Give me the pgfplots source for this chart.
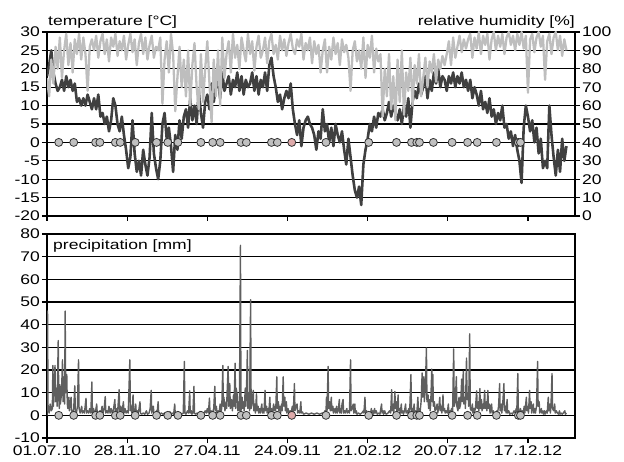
\documentclass[border=0pt]{standalone}
\usepackage{fontspec}
\setmainfont{Liberation Sans}[FakeStretch=1.25]
\newfontfamily\titlefont{Liberation Sans}[FakeStretch=1.3]
\usepackage{pgfplots}
\pgfplotsset{compat=1.18}
\usepackage{pgfplotstable}

\definecolor{tempc}{RGB}{64,64,64}
\definecolor{humc}{RGB}{190,190,190}
\definecolor{precc}{RGB}{95,95,95}
\definecolor{circc}{RGB}{192,192,192}
\definecolor{pinkc}{RGB}{222,170,170}

% temperature, one value every 4 days from 01.07.10
\pgfplotstableread[header=false,row sep=\\]{
18\\21\\25\\19\\16\\14\\15\\17\\14\\18\\15\\17\\14\\16\\11\\12\\10\\12\\10\\13\\11\\9\\12\\9\\13\\7\\8\\5\\7\\3\\6\\12\\10\\5\\3\\7\\2\\-2\\-7\\-4\\6\\
-3\\-8\\-5\\-9\\-2\\-6\\-9\\-4\\8\\-3\\-7\\-10\\-5\\5\\8\\1\\4\\-1\\-8\\2\\-2\\6\\1\\7\\9\\4\\12\\6\\10\\5\\14\\8\\4\\11\\
13\\9\\16\\11\\15\\17\\12\\19\\14\\16\\18\\13\\17\\15\\19\\14\\18\\13\\17\\15\\16\\19\\14\\18\\13\\17\\15\\19\\14\\21\\23\\18\\15\\
11\\13\\9\\12\\14\\12\\16\\9\\5\\2\\6\\-1\\4\\6\\7\\5\\4\\2\\-2\\3\\1\\9\\3\\5\\0\\4\\-1\\5\\2\\0\\3\\-2\\-6\\1\\-4\\-9\\
-13\\-15\\-12\\-17\\-6\\-2\\1\\5\\3\\7\\4\\8\\7\\9\\6\\8\\11\\7\\10\\8\\6\\9\\5\\10\\7\\12\\4\\11\\14\\12\\16\\13\\15\\
18\\12\\17\\14\\19\\16\\20\\15\\18\\17\\14\\18\\16\\19\\15\\18\\16\\19\\15\\17\\14\\17\\12\\15\\13\\10\\14\\9\\11\\8\\12\\7\\9\\
5\\8\\6\\10\\4\\5\\1\\3\\-1\\2\\-2\\-5\\-11\\4\\10\\7\\3\\6\\0\\4\\-3\\1\\-7\\-5\\-7\\10\\2\\-4\\-9\\-2\\-8\\1\\-5\\-1\\
}\temptab

% relative humidity, one value every 4 days from 01.07.10
\pgfplotstableread[header=false,row sep=\\]{
75\\65\\85\\72\\92\\80\\97\\75\\90\\99\\82\\94\\78\\96\\88\\99\\85\\97\\88\\68\\92\\96\\
90\\98\\86\\95\\99\\88\\96\\84\\97\\92\\99\\87\\95\\90\\98\\85\\93\\99\\89\\
96\\82\\94\\99\\88\\97\\85\\93\\98\\86\\92\\90\\97\\61\\85\\95\\78\\99\\88\\57\\75\\92\\70\\
85\\65\\90\\60\\82\\94\\70\\58\\88\\62\\80\\95\\72\\51\\85\\65\\90\\60\\97\\75\\88\\
95\\78\\99\\86\\93\\80\\97\\90\\84\\99\\88\\95\\79\\92\\98\\86\\90\\97\\83\\95\\99\\88\\93\\85\\98\\90\\96\\87\\94\\99\\91\\
88\\96\\92\\99\\85\\94\\90\\97\\83\\95\\88\\93\\78\\90\\96\\78\\92\\85\\97\\88\\94\\82\\96\\89\\93\\86\\68\\90\\95\\84\\
90\\80\\97\\75\\93\\86\\98\\78\\91\\84\\88\\54\\80\\65\\88\\58\\76\\52\\85\\62\\90\\55\\78\\68\\86\\60\\82\\72\\88\\65\\
75\\86\\70\\84\\78\\88\\73\\85\\80\\87\\82\\88\\95\\82\\97\\86\\92\\98\\89\\96\\91\\
96\\99\\86\\97\\91\\100\\88\\98\\93\\99\\85\\96\\100\\90\\98\\92\\99\\88\\97\\100\\93\\
98\\90\\99\\93\\100\\91\\98\\67\\96\\99\\89\\97\\100\\92\\98\\74\\95\\99\\88\\97\\100\\90\\98\\87\\96\\90\\
}\humtab

% precipitation: day  mm
\pgfplotstableread[row sep=\\]{
d p\\
0 0\\1 46\\2 3\\4 1\\6 5\\8 2\\10 3\\11 22\\12 4\\13 10\\15 22\\16 6\\18 12\\19 4\\21 33\\22 8\\23 3\\24 13.5\\25 5\\27 9\\29 24.5\\30 6\\32 17\\33 5\\34 46\\35 10\\37 18\\38 5\\39 3\\41 8\\42 2\\43 4\\45 8\\46 2\\48 1\\50 3\\52 13\\53 2\\55 1\\57 4\\59 24.5\\60 3\\62 1\\63 2\\65 4\\66 1\\68 2\\70 1\\73 7.5\\74 1\\76 2\\78 1\\80 3\\82 1\\84 14.7\\85 1\\87 3\\89 1\\91 2\\93 5\\94 1\\96 0.5\\99 2\\
101 1\\103 4\\105 1\\107 3\\109 8.3\\110 1\\112 2\\114 1\\116 4\\118 1\\120 3\\122 1\\124 2\\127 7\\128 1\\130 3\\132 1\\135 11.3\\136 2\\138 4\\140 1\\143 6\\144 1\\146 3\\148 1\\150 2\\152 1\\155 24.5\\156 2\\158 4\\159 1\\161 9\\162 2\\164 1\\166 5\\167 1\\169 2\\171 1\\174 6\\175 1\\177 0.5\\180 1\\183 0.5\\186 2\\188 0.5\\191 1\\193 3\\195 11\\196 1\\197 2\\199 4\\
200 1\\202 0.5\\205 2\\206 1\\208 6\\209 1\\211 0.5\\214 1\\217 0.5\\220 1\\223 0.5\\226 1\\228 0.5\\230 1.7\\231 0.5\\234 1\\237 0.5\\239 5\\240 0.5\\243 1\\246 0.5\\249 1\\252 0.5\\255 1\\257 23.8\\258 1\\260 0.5\\263 2\\265 1\\267 10.8\\268 1\\270 2\\271 0.5\\273 1\\275 12.8\\276 1\\278 0.5\\281 1\\283 0.5\\286 1.7\\287 0.5\\290 1\\293 0.5\\296 2\\298 1\\
300 3\\302 1\\304 7.6\\305 1\\307 2\\309 0.5\\312 3\\314 12.8\\315 2\\317 4\\318 1\\320 2\\322 1\\324 5\\325 1\\327 3\\329 22\\330 4\\331 8\\333 2\\335 6\\336 3\\337 10\\339 21.6\\340 4\\342 14\\343 3\\345 7\\347 2\\349 9\\350 4\\352 23\\353 3\\354 12\\356 9\\357 2\\359 6\\360 2\\362 75\\363 2\\365 8\\366 3\\368 6\\369 2\\371 12\\372 4\\373 9\\375 28.6\\376 3\\378 10\\379 2\\381 51\\382 3\\384 6\\386 11\\387 2\\389 5\\390 1\\392 9.5\\393 2\\395 4\\396 1\\398 3\\399 1\\
402 5\\403 1\\405 3\\406 1\\408 11\\409 2\\411 4\\412 1\\414 3\\415 1\\417 8\\418 1\\420 3\\422 1\\424 5\\425 2\\427 4\\428 2\\430 17\\431 3\\433 6\\434 2\\436 4\\437 1\\439 5\\440 2\\442 17\\443 4\\445 8\\446 2\\448 6\\449 1\\451 3\\453 1\\455 2\\457 1\\459 4\\460 1\\461 2\\463 14\\464 2\\466 4\\468 5\\469 1\\471 2\\473 1\\475 6\\476 1\\478 1.5\\480 0.5\\485 1\\490 0.5\\495 1\\
500 0.5\\505 1\\510 0.5\\515 1\\518 0.5\\520 2\\522 1\\523 8\\524 2\\526 21.6\\527 3\\529 6\\530 2\\532 8\\533 2\\535 4\\536 1\\539 3\\540 1\\542 4\\543 1\\545 2\\547 7\\548 1\\550 3\\551 1\\552 5\\554 7\\555 1\\557 2\\558 1\\561 3\\562 1\\564 2\\566 1\\568 24.5\\569 2\\571 3\\573 5\\574 1\\576 5\\577 1\\579 2\\580 0.5\\583 1\\586 0.5\\589 1\\592 2\\593 1\\595 8\\596 1\\598 2\\
600 0.5\\603 1\\605 0.5\\607 3\\608 1\\610 2\\611 0.5\\613 3\\614 1\\616 2\\618 0.5\\621 1\\623 0.5\\626 5\\627 1\\629 2\\630 0.5\\632 2\\633 1\\635 0.5\\638 1\\641 2\\643 1\\645 11.3\\646 2\\648 5\\649 1\\651 10.5\\652 3\\654 6\\655 1\\657 9\\658 2\\660 3\\661 1\\663 5\\664 1\\666 2\\667 0.5\\669 2\\671 5\\672 1\\674 2\\675 1\\677 3\\678 1\\679 4\\681 18\\682 2\\684 3\\685 1\\687 5\\688 1\\690 2\\692 1\\694 8\\695 2\\697 3\\698 1\\
700 6\\702 18.7\\703 8\\705 17\\706 6\\708 12\\710 29.7\\711 6\\713 9\\714 3\\716 7\\717 2\\718 5\\720 20.4\\721 6\\722 18\\723 4\\725 6\\726 2\\728 3\\730 5\\731 1\\733 3\\735 8\\736 2\\738 4\\739 1\\741 9\\742 2\\744 3\\745 1\\747 2\\749 1\\751 5\\752 1\\754 2\\755 1\\757 3\\759 2\\761 29.3\\762 4\\764 6\\766 17\\767 4\\769 2\\771 8\\772 3\\774 5\\776 16\\777 6\\779 19.5\\780 5\\782 8\\783 3\\785 25.3\\786 7\\788 10\\789 4\\791 36\\792 3\\794 2\\796 5\\797 1\\799 3\\
800 1\\802 4\\804 10.8\\805 3\\807 6\\808 2\\810 11.8\\811 3\\813 7\\814 2\\816 5\\817 3\\819 11\\820 3\\822 6\\823 2\\825 11\\826 3\\828 5\\829 1\\832 5\\833 1\\835 2\\837 0.5\\840 1\\842 2\\843 1\\845 4\\847 14\\848 2\\850 5\\851 1\\853 6\\855 14\\856 2\\858 4\\859 1\\861 7\\862 1\\864 2\\866 0.5\\869 1\\871 0.5\\874 2\\876 1\\878 3\\879 1\\881 18.4\\882 2\\884 1\\886 3\\887 1\\889 2\\891 1\\893 4\\894 1\\895 3\\897 8\\898 2\\
900 4\\901 1\\903 11\\904 3\\906 6\\907 1\\910 5\\911 1\\913 3\\914 1\\916 4\\918 23.8\\919 4\\921 6\\922 1\\925 3\\926 1\\928 2\\929 0.5\\931 2\\932 0.5\\935 2\\936 1\\938 8\\939 2\\941 5\\942 1\\943 4\\945 18.4\\946 3\\948 2\\950 5\\951 1\\953 2\\955 1\\957 0.5\\959 2\\960 0.5\\962 1\\964 0.5\\966 1\\969 2\\970 0.5\\972 1\\
}\prectab

\pgfplotsset{
  panel/.style={
    scale only axis, width=528pt,
    xmin=0, xmax=988,
    axis line style={black, line width=1.2pt},
    tick style={black, line width=1.2pt},
    tick align=outside, major tick length=5pt,
    tick label style={font=\fontsize{14}{16}\selectfont},
    yticklabel style={inner sep=2pt},
    xticklabel style={inner sep=3pt},
    /pgf/number format/assume math mode=true,
    xtick={0,150,...,900},
  },
}

\begin{document}
\begin{tikzpicture}
% ---------- top panel: temperature ----------
\begin{axis}[panel,
  at={(47pt,245pt)}, anchor=south west, height=184pt,
  ymin=-20, ymax=30, ytick={-20,-15,...,30},
  xticklabels={},
  xtick pos=bottom, ytick pos=left,
  ymajorgrids, grid style={black, line width=1.2pt},
]
\addplot[tempc, line width=2.6pt, line join=round] table[x expr=\coordindex*4, y index=0] {\temptab};
\addplot[only marks, mark=*, mark size=4pt, mark options={fill=circc, draw=black!80, line width=0.8pt}] coordinates {
(22,0)(50,0)(91,0)(99,0)(128,0)(137,0)(165,0)(205,0)(226,0)(245,0)(288,0)(310,0)(324,0)(363,0)(373,0)(420,0)(431,0)
(522,0)(602,0)(654,0)(682,0)(692,0)(697,0)(723,0)(758,0)(787,0)(805,0)(841,0)(882,0)(886,0)};
\addplot[only marks, mark=*, mark size=4pt, mark options={fill=pinkc, draw=black!80, line width=0.8pt}] coordinates {(458,0)};
\end{axis}
% ---------- top panel: humidity ----------
\begin{axis}[panel,
  at={(47pt,245pt)}, anchor=south west, height=184pt,
  ymin=0, ymax=100, ytick={0,10,...,100},
  axis x line=none, axis y line*=right,
]
\addplot[humc, line width=2.3pt, line join=round] table[x expr=\coordindex*4, y index=0] {\humtab};
\end{axis}
% ---------- bottom panel: precipitation ----------
\begin{axis}[panel,
  at={(47pt,23pt)}, anchor=south west, height=204pt,
  ymin=-10, ymax=80, ytick={-10,0,...,80},
  xticklabels={01.07.10,28.11.10,27.04.11,24.09.11,21.02.12,20.07.12,17.12.12},
  xtick pos=bottom, ytick pos=left,
  ymajorgrids, grid style={black, line width=1.2pt},
]
\addplot[precc, line width=1.4pt, line join=round] table[x=d, y=p] {\prectab};
\addplot[only marks, mark=*, mark size=4pt, mark options={fill=circc, draw=black!80, line width=0.8pt}] coordinates {
(22,0)(50,0)(91,0)(99,0)(128,0)(137,0)(165,0)(205,0)(226,0)(245,0)(288,0)(310,0)(324,0)(363,0)(373,0)(420,0)(431,0)
(522,0)(602,0)(654,0)(682,0)(692,0)(697,0)(723,0)(758,0)(787,0)(805,0)(841,0)(882,0)(886,0)};
\addplot[only marks, mark=*, mark size=4pt, mark options={fill=pinkc, draw=black!80, line width=0.8pt}] coordinates {(458,0)};
\end{axis}
% ---------- titles ----------
\node[anchor=base west, inner sep=0pt, font=\titlefont\fontsize{13.5}{16}\selectfont] at (48pt,435pt) {temperature [°C]};
\node[anchor=base east, inner sep=0pt, font=\titlefont\fontsize{13.5}{16}\selectfont] at (575pt,435pt) {relative humidity [\%]};
\node[anchor=base west, inner sep=0pt, font=\titlefont\fontsize{13.5}{16}\selectfont] at (53pt,211pt) {precipitation [mm]};
\pgfresetboundingbox
\useasboundingbox (0,0) rectangle (624pt,461pt);
\end{tikzpicture}
\end{document}
